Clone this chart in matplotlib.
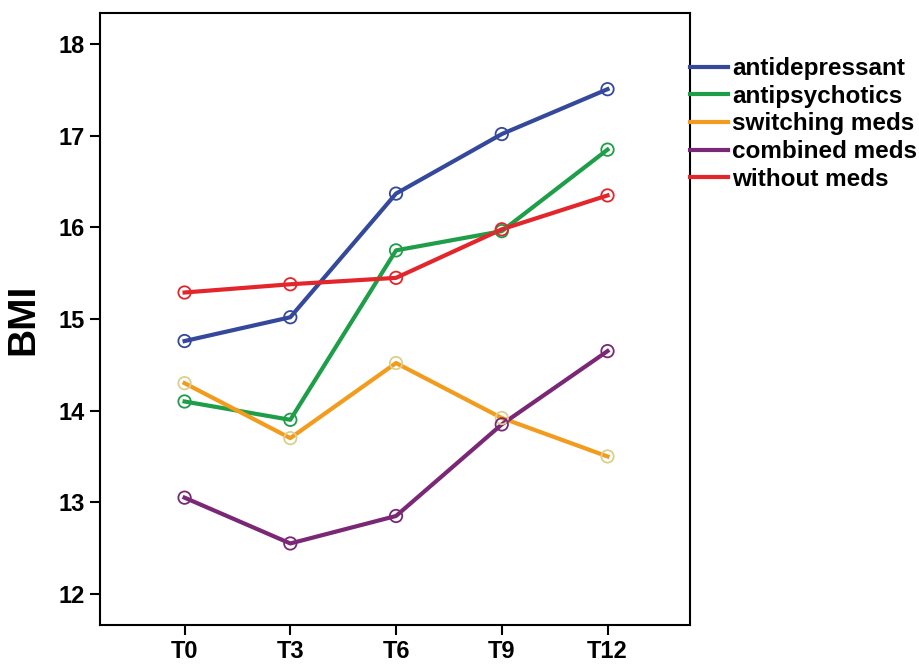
import matplotlib.pyplot as plt

plt.rcParams["font.family"] = "Liberation Sans"
plt.rcParams["font.weight"] = "bold"

timepoints = ["T0", "T3", "T6", "T9", "T12"]
groups = ["antidepressant", "antipsychotics", "switching meds", "combined meds", "without meds"]
antidepressant = [14.76, 15.02, 16.37, 17.02, 17.51]
antipsychotics = [14.10, 13.90, 15.75, 15.96, 16.85]
switching_meds = [14.30, 13.70, 14.52, 13.92, 13.50]
combined_meds = [13.05, 12.55, 12.85, 13.85, 14.65]
without_meds = [15.29, 15.38, 15.45, 15.98, 16.35]

series = [antidepressant, antipsychotics, switching_meds, combined_meds, without_meds]
line_colors = ["#35499c", "#1e9e48", "#f29b1c", "#7a2875", "#e3262b"]
marker_colors = ["#35499c", "#1e9e48", "#d9d08e", "#7a2875", "#e3262b"]

fig = plt.figure(figsize=(9.19, 6.65), dpi=100)
ax = fig.add_axes([0.1088, 0.0602, 0.642, 0.920])

x = list(range(len(timepoints)))
for vals, name, lc, mc in zip(series, groups, line_colors, marker_colors):
    ax.plot(x, vals, color=lc, linewidth=3, label=name, zorder=2)
    ax.scatter(x, vals, s=80, facecolors="none", edgecolors=mc, linewidths=1.3, zorder=3)

ax.set_xlim(-0.8, 4.78)
ax.set_ylim(11.66, 18.34)
ax.set_xticks(x)
ax.set_xticklabels(timepoints)
ax.set_yticks([12, 13, 14, 15, 16, 17, 18])
ax.tick_params(axis="both", direction="out", length=7, width=1.5, labelsize=17, pad=4)
for lab in ax.get_xticklabels() + ax.get_yticklabels():
    lab.set_fontweight("bold")
for sp in ax.spines.values():
    sp.set_linewidth(1.5)

ax.set_ylabel("BMI", fontsize=28, fontweight="bold", labelpad=12)

leg = ax.legend(loc="upper left", bbox_to_anchor=(1.0, 0.928), frameon=False,
                handlelength=1.56, handletextpad=0.17, borderaxespad=0, borderpad=0,
                labelspacing=0.19, prop={"size": 17.5, "weight": "bold"})

plt.savefig("out.png", dpi=100)
